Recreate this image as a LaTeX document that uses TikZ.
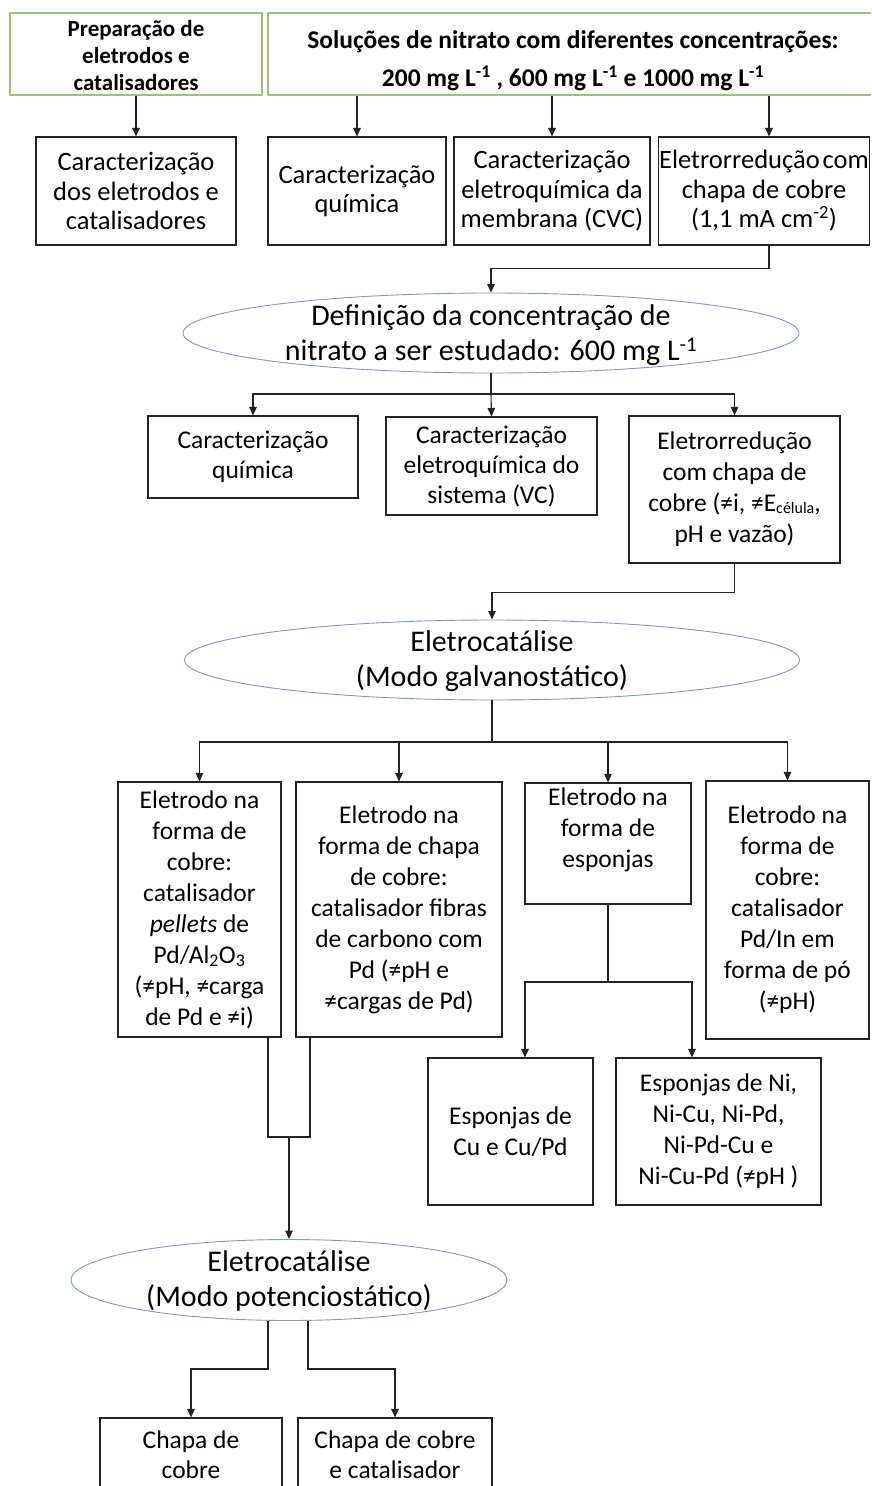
\documentclass[tikz,border=0pt]{standalone}
\usepackage{fontspec}
\setmainfont{Carlito}
\usetikzlibrary{shapes.geometric,arrows.meta}
\definecolor{greenb}{RGB}{160,190,125}
\definecolor{blueb}{RGB}{125,155,200}
\definecolor{lncol}{RGB}{35,35,35}
\begin{document}
\begin{tikzpicture}[x=1pt,y=-1pt,
  box/.style={rectangle,draw=lncol,line width=1.1pt,align=center,inner sep=1pt,font=\fontsize{25.5}{30}\selectfont},
  big/.style={font=\fontsize{26.5}{29.5}\selectfont},
  tall/.style={font=\fontsize{25.5}{31}\selectfont},
  topbox/.style={rectangle,draw=greenb,line width=1.1pt,align=center,inner sep=1pt,font=\bfseries\fontsize{23}{27}\selectfont},
  txt/.style={align=center,inner sep=0pt},
  ell/.style={ellipse,draw=blueb,line width=0.9pt,align=center,inner sep=0pt,font=\fontsize{30}{35.5}\selectfont},
  arr/.style={draw=lncol,line width=1.1pt,-{Triangle[length=8.5pt,width=7.5pt]}},
  ln/.style={draw=lncol,line width=1.1pt}]
\useasboundingbox (0,0) rectangle (871,1486);
\fill[white] (0,0) rectangle (871,1486);
\clip (0,0) rectangle (871,1486);

% top row
\node[topbox,minimum width=252,minimum height=82] (prep) at (136,54) {};
\node[txt,font=\bfseries\fontsize{23}{27}\selectfont] (preptxt) at (136,56) {Preparação de\\eletrodos e\\catalisadores};
\node[topbox,minimum width=606,minimum height=82] (sol) at (571,54) {};
\node[txt,font=\bfseries\fontsize{25.5}{38}\selectfont] (soltxt) at (573,61)
  {Soluções de nitrato com diferentes concentrações:\\200 mg L\textsuperscript{-1} , 600 mg L\textsuperscript{-1} e 1000 mg L\textsuperscript{-1}};

% row 2
\node[box,big,minimum width=200,minimum height=108] (c1) at (136,191) {Caracterização\\dos eletrodos e\\catalisadores};
\node[box,big,minimum width=178,minimum height=108] (c2) at (357,191) {Caracterização\\química};
\node[box,big,minimum width=196,minimum height=108] (c3) at (552,191) {Caracterização\\eletroquímica da\\membrana (CVC)};
\node[box,big,minimum width=210,minimum height=108] (c4) at (764,191) {Eletrorredução\kern-3pt{} com\\chapa de cobre\\(1,1 mA cm\textsuperscript{-2})};

\draw[arr] (prep) -- (c1);
\draw[arr] (sol.south -| c2.north) -- (c2.north);
\draw[arr] (sol.south -| c3.north) -- (c3.north);
\draw[arr] (sol.south -| 769,0) -- ([xshift=5pt]c4.north);

% ellipse 1
\node[ell,minimum width=616,minimum height=80] (e1) at (491,333) {};
\node[txt,font=\fontsize{30}{35.5}\selectfont] (e1txt) at (491,335) {Definição da concentração de\\nitrato a ser estudado: 600 mg L\textsuperscript{-1}};
\draw[arr] ([xshift=5pt]c4.south) -- ++(0,23) -| (e1.north);

% row 3
\node[box,minimum width=210,minimum height=82] (a) at (253,457) {Caracterização\\química};
\node[box,minimum width=211,minimum height=98] (b) at (491.5,466) {Caracterização\\eletroquímica do\\sistema (VC)};
\node[box,tall,minimum width=211,minimum height=147] (c) at (734.5,489.5) {Eletrorredução\\com chapa de\\cobre (≠i, ≠E\raisebox{-1.5pt}{\fontsize{16}{16}\selectfont célula},\\pH e vazão)};
\coordinate (j1) at (491,394);
\draw[ln] (e1.south) -- (j1);
\draw[arr] (j1) -| (a.north);
\draw[arr] (j1) -- (b.north);
\draw[arr] (j1) -| (c.north);

% ellipse 2
\node[ell,minimum width=615,minimum height=80] (e2) at (492,660) {};
\node[txt,font=\fontsize{30}{35.5}\selectfont] (e2txt) at (492,661) {Eletrocatálise\\(Modo galvanostático)};
\draw[arr] (c.south) -- ++(0,29) -| (e2.north);

% row 4
\node[box,tall,minimum width=163,minimum height=255] (d) at (199.5,909.5) {Eletrodo na\\forma de\\cobre:\\catalisador\\\textit{pellets} de\\Pd/Al\textsubscript{2}O\textsubscript{3}\\(≠pH, ≠carga\\de Pd e ≠i)};
\node[box,tall,minimum width=206,minimum height=255] (e) at (399,909.5) {Eletrodo na\\forma de chapa\\de cobre:\\catalisador fibras\\de carbono com\\Pd (≠pH e\\≠cargas de Pd)};
\node[box,tall,minimum width=166,minimum height=121] (f) at (608,843.5) {Eletrodo na\\forma de\\esponjas\\~};
\node[box,tall,minimum width=163,minimum height=258] (g) at (787.5,910) {Eletrodo na\\forma de\\cobre:\\catalisador\\Pd/In em\\forma de pó\\(≠pH)};
\coordinate (j2) at (492,742);
\draw[ln] (e2.south) -- (j2);
\draw[arr] (j2) -| (d.north);
\draw[arr] (j2) -| (e.north);
\draw[arr] (j2) -| (f.north);
\draw[arr] (j2) -| (g.north);

% row 5
\node[box,tall,minimum width=165,minimum height=147] (h) at (510.5,1131.5) {Esponjas de\\Cu e Cu/Pd};
\node[box,tall,minimum width=205,minimum height=147] (i) at (718.5,1131.5) {Esponjas de Ni,\\Ni-Cu, Ni-Pd,\\Ni-Pd-Cu e\\Ni-Cu-Pd (≠pH )};
\coordinate (j3) at (608,982);
\draw[ln] (f.south) -- (j3);
\draw[arr] (j3) -| ([xshift=14.5pt]h.north);
\draw[arr] (j3) -| ([xshift=-26.5pt]i.north);

% ellipse 3
\node[ell,minimum width=436,minimum height=81] (e3) at (289,1280) {};
\node[txt,font=\fontsize{30}{35.5}\selectfont] (e3txt) at (289,1281) {Eletrocatálise\\(Modo potenciostático)};
\coordinate (j4) at (289,1137);
\draw[ln] ([xshift=68.5pt]d.south) |- (j4);
\draw[ln] ([xshift=-89pt]e.south) |- (j4);
\draw[arr] (j4) -- (e3.north);

% row 6
\node[box,minimum width=182,minimum height=82,text depth=8pt] (jj) at (191,1459) {Chapa de\\cobre};
\node[box,minimum width=194,minimum height=82,text depth=8pt] (kk) at (395,1459) {Chapa de cobre\\e catalisador};
\coordinate (j5) at (268,1369);
\coordinate (j6) at (308,1369);
\draw[arr] ([xshift=-21pt]e3.south) -- (j5) -| (jj.north);
\draw[arr] ([xshift=19pt]e3.south) -- (j6) -| (kk.north);
\end{tikzpicture}
\end{document}
